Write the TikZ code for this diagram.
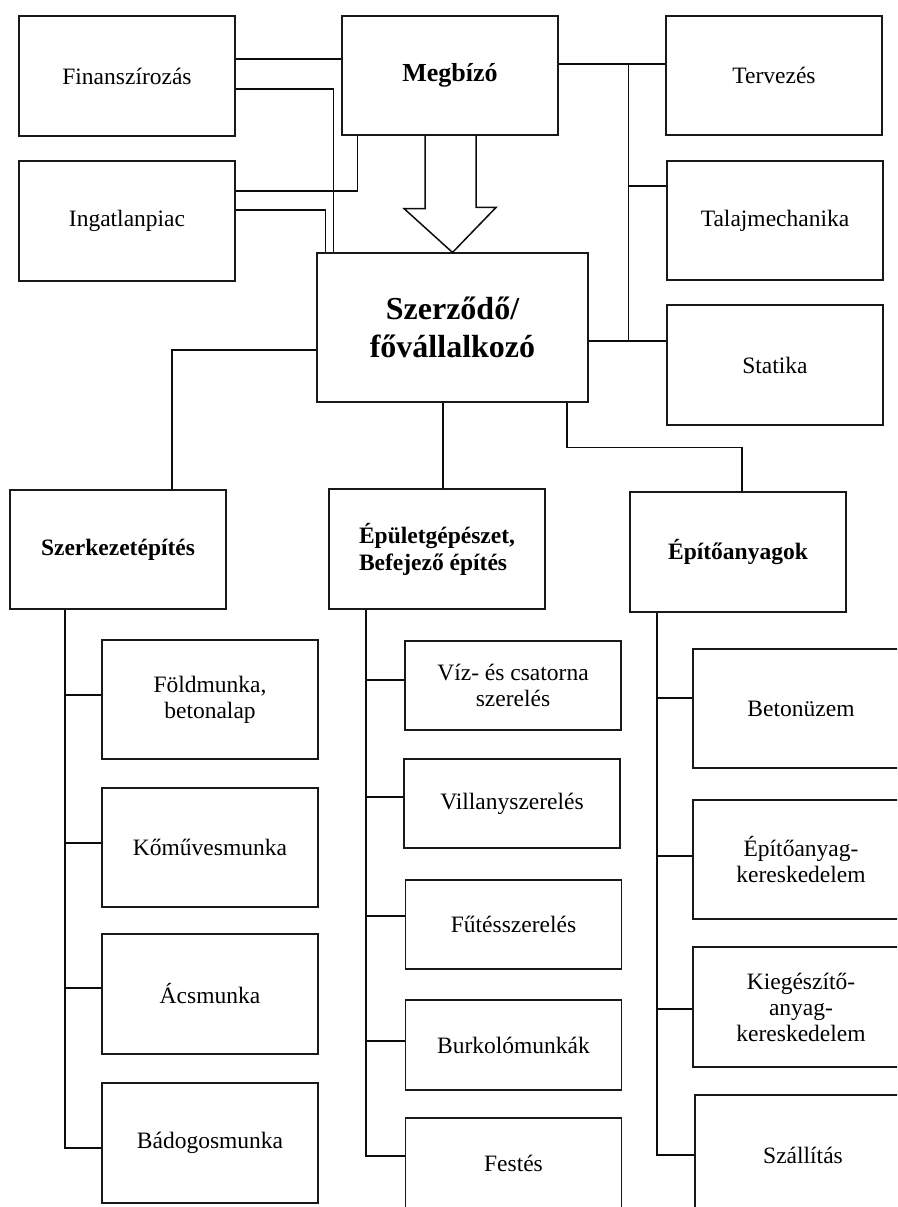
\documentclass[tikz,border=0pt]{standalone}
\usepackage{fontspec}
\setmainfont{Liberation Serif}
\begin{document}
\begin{tikzpicture}[x=1pt,y=-1pt,
  box/.style={draw=black!90, line width=1.1pt, inner sep=0pt, align=center,
    minimum width=216pt, minimum height=120pt,
    font=\fontsize{23.5}{26}\selectfont},
  shortbox/.style={box, minimum height=89pt},
  titlebox/.style={box, font=\fontsize{23.5}{27}\selectfont\bfseries},
  conn/.style={draw=black!95, line width=1.5pt, line join=miter}]
\useasboundingbox (0,0) rectangle (897,1207);
\clip (0,0) rectangle (897,1207);

% top row: client and its partners
\node[box] (fin) at (127,76) {Finanszírozás};
\node[box] (ing) at (127,221) {Ingatlanpiac};
\node[box, minimum height=119pt, font=\fontsize{26}{30}\selectfont\bfseries] (meg) at (450,75.5) {Megbízó};
\node[box, minimum height=119pt] (terv) at (774,75.5) {Tervezés};
\node[box, minimum height=119pt] (talaj) at (775,220.5) {Talajmechanika};
\node[box] (stat) at (775,365) {Statika};

% main contractor
\node[box, minimum width=271pt, minimum height=149pt,
  font=\fontsize{32}{38}\selectfont\bfseries] (szer) at (452.5,327.5) {Szerződő/\\fővállalkozó};

% work groups
\node[titlebox, minimum height=119pt] (szk) at (118,549.5) {Szerkezetépítés};
\node[titlebox, align=left] (epg) at (437,549) {Épületgépészet,\\Befejező építés};
\node[titlebox] (epa) at (738,552) {Építőanyagok};

% structural works
\node[box, minimum height=119pt] (fold) at (210,699.5) {Földmunka,\\betonalap};
\node[box, minimum height=119pt] (komu) at (210,847.5) {Kőművesmunka};
\node[box] (acs) at (210,994) {Ácsmunka};
\node[box] (bado) at (210,1143) {Bádogosmunka};

% building services and finishing
\node[shortbox] (viz) at (513,685.5) {Víz- és csatorna\\szerelés};
\node[shortbox] (vill) at (512,803.5) {Villanyszerelés};
\node[shortbox] (fut) at (513.5,924.5) {Fűtésszerelés};
\node[shortbox, minimum height=90pt] (burk) at (513.5,1045) {Burkolómunkák};
\node[shortbox, minimum height=90pt] (fest) at (513.5,1163) {Festés};

% building materials
\node[box, minimum height=119pt] (beton) at (801,708.5) {Betonüzem};
\node[box, minimum height=119pt] (epker) at (801,859.5) {Építőanyag-\\kereskedelem};
\node[box] (kieg) at (801,1007) {Kiegészítő-\\anyag-\\kereskedelem};
\node[box] (szall) at (803,1155) {Szállítás};

% links on the left of the client
\coordinate (f1) at ([yshift=17pt]fin.east);
\draw[conn] (f1) -- (f1 -| meg.west);
\coordinate (f2) at ([yshift=-13pt]fin.east);
\draw[conn] (f2) -| ([xshift=17pt]szer.north west);
\coordinate (i1) at ([yshift=30pt]ing.east);
\draw[conn] (i1) -| ([xshift=16pt]meg.south west);
\coordinate (i2) at ([yshift=11pt]ing.east);
\draw[conn] (i2) -| ([xshift=9pt]szer.north west);

% hollow arrow from client to contractor
\coordinate (aL) at ([xshift=-25pt]meg.south);
\coordinate (aR) at ([xshift=26pt]meg.south);
\draw[conn] (aL) -- ++(0,73) -- ++(-21,0) -- (szer.north) -- ++(43.5,-45) -- ++(-20,0) -- (aR);

% links on the right
\coordinate (m1) at ([yshift=11.5pt]meg.east);
\draw[conn] (m1) -- (m1 -| terv.west);
\coordinate (rb) at ([xshift=70pt]m1);
\coordinate (s1) at ([yshift=24pt]stat.west);
\coordinate (t1) at ([yshift=34.5pt]talaj.west);
\draw[conn] (rb) -- (rb |- s1);
\draw[conn] (szer.east |- s1) -- (s1);
\draw[conn] (rb |- t1) -- (t1);

% contractor to work groups
\coordinate (c1) at ([yshift=-22.5pt]szer.west);
\draw[conn] (c1) -| ([xshift=54pt]szk.north);
\draw[conn] ([xshift=6pt]epg.north) -- ([xshift=6pt]epg.north |- szer.south);
\draw[conn] ([xshift=114.5pt]szer.south) -- ++(0,45) -| ([xshift=4pt]epa.north);

% structural works bus
\coordinate (b1) at ([xshift=-53pt]szk.south);
\coordinate (b1e) at ([yshift=-5pt]bado.west);
\draw[conn] (b1) -- (b1 |- b1e) -- (b1e);
\foreach \n/\s in {fold/4.5, komu/4.5, acs/6}{
  \coordinate (tip) at ([yshift=\s pt]\n.west);
  \draw[conn] (b1 |- tip) -- (tip);
}

% services bus
\coordinate (b2) at ([xshift=-71pt]epg.south);
\coordinate (b2e) at ([yshift=7pt]fest.west);
\draw[conn] (b2) -- (b2 |- b2e) -- (b2e);
\foreach \n/\s in {viz/5.5, vill/6.5, fut/8.5, burk/4}{
  \coordinate (tip) at ([yshift=\s pt]\n.west);
  \draw[conn] (b2 |- tip) -- (tip);
}

% materials bus
\coordinate (b3) at ([xshift=-81pt]epa.south);
\coordinate (b3e) at (szall.west);
\draw[conn] (b3) -- (b3 |- b3e) -- (b3e);
\foreach \n/\s in {beton/10.5, epker/3.5, kieg/-2}{
  \coordinate (tip) at ([yshift=\s pt]\n.west);
  \draw[conn] (b3 |- tip) -- (tip);
}
\end{tikzpicture}
\end{document}
